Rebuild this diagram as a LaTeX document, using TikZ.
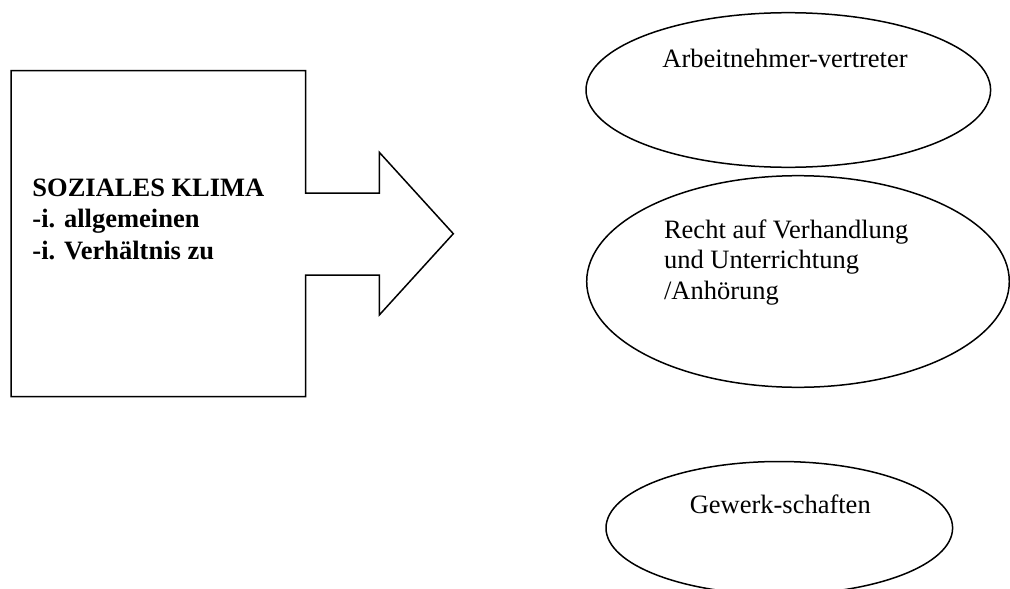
\documentclass[tikz,border=0pt]{standalone}
\usepackage{fontspec}
\setmainfont{Liberation Serif}
\usetikzlibrary{shapes.geometric}
\begin{document}
\begin{tikzpicture}[x=1pt,y=-1pt,line width=1.5pt,
  oval/.style={ellipse,draw,inner sep=0pt},
  label/.style={inner sep=0pt,anchor=base west,align=left,
    font=\fontsize{26.5}{31}\selectfont}]
\useasboundingbox (0,0) rectangle (1010,589);
% box with the arrow pointing right
\draw[line join=miter] (11,70.7) -- (305.7,70.7) -- (305.7,193) -- (379.3,193)
  -- (379.3,152.3) -- (453.3,233.7) -- (379.3,315) -- (379.3,275)
  -- (305.7,275) -- (305.7,396.7) -- (11,396.7) -- cycle;
% multi-line labels are placed by the baseline of their last line
\node[label,font=\fontsize{26.5}{31.2}\selectfont\bfseries] (klima) at (31.7,259)
  {SOZIALES KLIMA\\-i. allgemeinen\\-i. Verhältnis zu};
% ovals on the right
\node[oval,minimum width=404.6pt,minimum height=154.6pt] (vertreter) at (788.3,90) {};
\node[label] (vertretertext) at (661.7,67.3) {Arbeitnehmer-vertreter};
\node[oval,minimum width=422.6pt,minimum height=211.6pt] (recht) at (798,281.5) {};
\node[label,font=\fontsize{26.5}{30.5}\selectfont] (rechttext) at (663.3,299.3)
  {Recht auf Verhandlung\\und Unterrichtung\\/Anhörung};
\node[oval,minimum width=346.6pt,minimum height=133pt] (gewerk) at (779.3,528) {};
\node[label] (gewerktext) at (689,513.3) {Gewerk-schaften};
\end{tikzpicture}
\end{document}
